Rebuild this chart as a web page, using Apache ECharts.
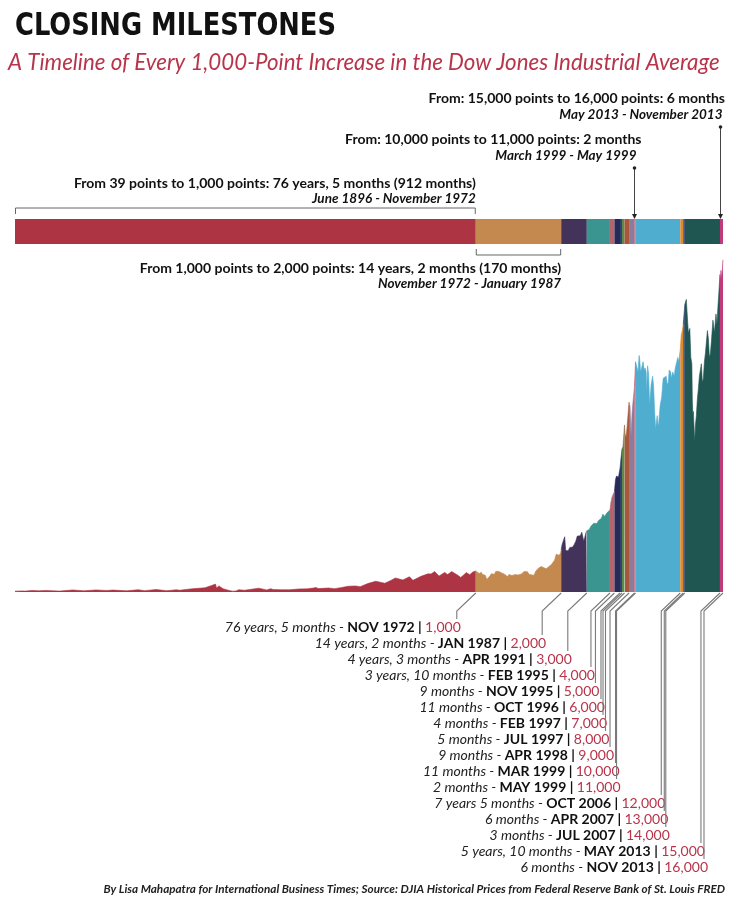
<!DOCTYPE html>
<html><head><meta charset="utf-8">
<script src="https://cdn.jsdelivr.net/npm/echarts@6/dist/echarts.min.js"></script>
<style>html,body{margin:0;padding:0;background:#fff}#c{width:736px;height:906px}</style>
</head><body><div id="c"></div>
<script>
// ---------- DATA ----------
const segmentColors = ['#AD3443','#C4894E','#43335A','#3A9591','#B5646F','#272957','#34406F','#5A8A4A','#A9573A','#8E7B9B','#C8475A','#4FADD0','#E08A2E','#2D3A6E','#1F5652','#C03A7C'];
const milestoneValues = ['1,000','2,000','3,000','4,000','5,000','6,000','7,000','8,000','9,000','10,000','11,000','12,000','13,000','14,000','15,000','16,000'];
const milestoneDates = ['1972-11','1987-01','1991-04','1995-02','1995-11','1996-10','1997-02','1997-07','1998-04','1999-03','1999-05','2006-10','2007-04','2007-07','2013-05','2013-11'];
const milestoneMonths = ['NOV 1972','JAN 1987','APR 1991','FEB 1995','NOV 1995','OCT 1996','FEB 1997','JUL 1997','APR 1998','MAR 1999','MAY 1999','OCT 2006','APR 2007','JUL 2007','MAY 2013','NOV 2013'];
const durationLabels = ['76 years, 5 months','14 years, 2 months','4 years, 3 months','3 years, 10 months','9 months','11 months','4 months','5 months','9 months','11 months','2 months','7 years 5 months','6 months','3 months','5 years, 10 months','6 months'];
const segmentMonths = [917,170,51,46,9,11,4,5,9,11,2,89,6,3,70,6];

const noteTitles = ['From 39 points to 1,000 points: 76 years, 5 months (912 months)','From 1,000 points to 2,000 points: 14 years, 2 months (170 months)','From: 10,000 points to 11,000 points: 2 months','From: 15,000 points to 16,000 points: 6 months'];
const noteDates = ['June 1896 - November 1972','November 1972 - January 1987','March 1999 - May 1999','May 2013 - November 2013'];
const noteSegments = [0,1,10,15];

const seg01 = [['1896-06',40],['1896-08',30],['1897-09',53],['1898-03',43],['1899-04',76],['1900-06',55],['1901-06',75],['1903-11',43],['1906-01',100],['1907-11',55],['1909-11',100],['1911-09',73],['1912-09',94],['1914-12',55],['1916-11',110],['1917-12',66],['1919-11',119],['1921-08',64],['1923-03',105],['1923-10',86],['1925-11',158],['1926-03',136],['1927-12',200],['1928-12',300],['1929-09',381],['1929-11',198],['1930-04',294],['1930-12',158],['1931-12',78],['1932-07',41],['1932-09',79],['1933-02',50],['1933-07',108],['1934-07',85],['1936-11',184],['1937-03',194],['1938-03',99],['1938-11',158],['1939-04',121],['1940-06',111],['1941-12',106],['1942-04',93],['1943-07',145],['1944-12',152],['1945-12',193],['1946-05',212],['1946-10',163],['1948-06',193],['1949-06',161],['1950-06',209],['1951-09',276],['1952-12',292],['1953-09',256],['1954-12',404],['1955-12',488],['1956-04',521],['1957-10',420],['1958-12',583],['1959-07',675],['1960-10',580],['1961-11',734],['1962-06',561],['1963-10',755],['1964-12',874],['1965-06',868],['1966-01',985],['1966-10',772],['1967-09',943],['1968-03',840],['1968-11',985],['1969-12',800],['1970-05',700],['1970-12',838],['1971-04',941],['1971-11',831],['1972-05',960],['1972-11',1018]];
const seg02 = [['1972-11',1018],['1973-01',999],['1973-03',951],['1973-06',891],['1973-08',887],['1973-10',956],['1973-12',851],['1974-03',847],['1974-06',802],['1974-09',608],['1974-12',616],['1975-03',768],['1975-06',879],['1975-09',794],['1975-12',852],['1976-03',999],['1976-06',1003],['1976-09',990],['1976-12',1005],['1977-03',919],['1977-06',916],['1977-09',847],['1977-12',831],['1978-02',742],['1978-05',841],['1978-08',877],['1978-11',799],['1979-03',862],['1979-06',842],['1979-09',878],['1979-11',822],['1980-03',786],['1980-06',868],['1980-09',932],['1980-11',993],['1981-03',1004],['1981-06',977],['1981-09',850],['1981-12',875],['1982-03',823],['1982-07',809],['1982-10',992],['1982-12',1047],['1983-03',1130],['1983-06',1222],['1983-09',1233],['1983-12',1259],['1984-03',1165],['1984-07',1115],['1984-09',1207],['1984-12',1212],['1985-03',1267],['1985-06',1336],['1985-09',1329],['1985-12',1547],['1986-03',1819],['1986-06',1893],['1986-09',1768],['1986-12',1896],['1987-01',2050]];
const seg03 = [['1987-01',2050],['1987-03',2304],['1987-05',2292],['1987-08',2663],['1987-10',1994],['1987-12',1939],['1988-03',1988],['1988-06',2141],['1988-09',2112],['1988-12',2169],['1989-03',2294],['1989-06',2440],['1989-09',2693],['1989-12',2753],['1990-03',2707],['1990-06',2881],['1990-07',2905],['1990-10',2442],['1990-12',2634],['1991-03',2914],['1991-04',2950]];
const seg04 = [['1991-04',2950],['1991-06',2907],['1991-09',3017],['1991-12',3169],['1992-03',3236],['1992-06',3319],['1992-09',3272],['1992-12',3301],['1993-03',3436],['1993-06',3516],['1993-09',3555],['1993-12',3754],['1994-03',3636],['1994-06',3625],['1994-09',3843],['1994-12',3834],['1995-02',3950]];
const seg05 = [['1995-02',3950],['1995-04',4321],['1995-06',4556],['1995-08',4610],['1995-11',4850]];
const seg06 = [['1995-11',4850],['1996-01',5395],['1996-03',5587],['1996-05',5643],['1996-07',5529],['1996-10',5950]];
const seg07 = [['1996-10',5950],['1996-12',6448],['1997-02',6900]];
const seg08 = [['1997-02',6900],['1997-04',7008],['1997-07',8050]];
const seg09 = [['1997-07',8050],['1997-08',7622],['1997-10',7442],['1997-12',7908],['1998-02',8546],['1998-04',9150]];
const seg10 = [['1998-04',9150],['1998-06',8952],['1998-07',8883],['1998-08',7539],['1998-10',8592],['1998-12',9181],['1999-03',9900]];
const seg11 = [['1999-03',9900],['1999-05',11100]];
const seg12 = [['1999-05',11100],['1999-07',10900],['1999-10',10600],['1999-12',11400],['2000-01',11300],['2000-03',10600],['2000-05',10800],['2000-08',11100],['2000-10',10700],['2000-12',10800],['2001-02',10600],['2001-03',9600],['2001-05',10900],['2001-07',10500],['2001-09',9000],['2001-12',10000],['2002-03',10400],['2002-05',9900],['2002-07',8700],['2002-09',7800],['2002-10',8100],['2002-12',8500],['2003-02',8000],['2003-03',8100],['2003-06',9000],['2003-09',9400],['2003-12',10300],['2004-03',10300],['2004-06',10400],['2004-08',10000],['2004-10',10100],['2004-12',10700],['2005-03',10600],['2005-04',10300],['2005-07',10600],['2005-10',10400],['2005-12',10800],['2006-03',11100],['2006-05',11300],['2006-07',11100],['2006-10',11700]];
const seg13 = [['2006-10',11700],['2006-12',12400],['2007-02',12600],['2007-04',12900]];
const seg14 = [['2007-04',12900],['2007-07',13850]];
const seg15 = [['2007-07',13850],['2007-10',14100],['2007-12',13300],['2008-02',12500],['2008-05',12700],['2008-07',11300],['2008-09',11000],['2008-10',9200],['2008-11',8600],['2008-12',8700],['2009-02',7600],['2009-03',7300],['2009-04',8000],['2009-06',8500],['2009-08',9300],['2009-10',9800],['2009-12',10400],['2010-04',11000],['2010-06',10100],['2010-08',10300],['2010-10',11100],['2010-12',11500],['2011-04',12600],['2011-06',12200],['2011-08',11300],['2011-10',11500],['2011-12',12100],['2012-03',13100],['2012-06',12500],['2012-09',13400],['2012-11',12900],['2013-01',13800],['2013-03',14500],['2013-05',15300]];
const seg16 = [['2013-05',15300],['2013-06',15000],['2013-07',15500],['2013-08',15100],['2013-09',15300],['2013-10',15600],['2013-11',16050]];
const segmentData = [seg01,seg02,seg03,seg04,seg05,seg06,seg07,seg08,seg09,seg10,seg11,seg12,seg13,seg14,seg15,seg16];

// ---------- CHART ----------
const FONT = 'Lato, "Open Sans", sans-serif';
const RED = '#B8344A';
const totalMonths = segmentMonths.reduce((a,b)=>a+b,0);
const cum = []; segmentMonths.reduce((a,b,i)=>{cum[i]=[a,a+b]; return a+b;},0);

const chart = echarts.init(document.getElementById('c'), null, {renderer:'canvas'});

const areaSeries = segmentData.map((d,i)=>({
  type:'line', xAxisIndex:0, yAxisIndex:0, data:d, symbol:'none', silent:true,
  lineStyle:{width:0.6, color:segmentColors[i]}, areaStyle:{color:segmentColors[i], opacity:1}, z:2
}));
const barSeries = segmentMonths.map((m,i)=>({
  type:'bar', xAxisIndex:1, yAxisIndex:1, stack:'tl', data:[m], barWidth:25, silent:true,
  itemStyle:{color:segmentColors[i]}
}));

const labelSeries = {
  type:'custom', xAxisIndex:0, yAxisIndex:0, silent:true, z:5,
  data: milestoneDates.map((d,i)=>[d,i]),
  renderItem:(params, api)=>{
    const i = api.value(1);
    const p = api.coord([api.value(0), 0]);
    const x = p[0], y0 = p[1];
    const ly = y0 + 35 + i*16;
    const vx = x - 19;
    return {type:'group', children:[
      {type:'polyline', shape:{points:[[x,y0+1],[vx,y0+19],[vx,ly-8]]}, style:{stroke:'#7a7a7a', lineWidth:1.1, fill:null}},
      {type:'text', x:x-15, y:ly, style:{
        text:'{d|'+durationLabels[i]+' - }{m|'+milestoneMonths[i]+' | }{v|'+milestoneValues[i]+'}',
        align:'right', verticalAlign:'middle',
        rich:{
          d:{fontFamily:FONT, fontStyle:'italic', fontSize:14, fill:'#222'},
          m:{fontFamily:FONT, fontWeight:'bold', fontSize:14, fill:'#111'},
          v:{fontFamily:FONT, fontSize:14, fill:RED}
        }}}
    ]};
  }
};

const noteSeries = {
  type:'custom', xAxisIndex:1, yAxisIndex:1, silent:true, z:5,
  data: noteSegments.map((s,k)=>[cum[s][0], cum[s][1], k]),
  renderItem:(params, api)=>{
    const k = api.value(2);
    const a = api.coord([api.value(0), 0]);
    const b = api.coord([api.value(1), 0]);
    const cy = a[1], top = cy-12.5, bot = cy+12.5;
    const tStyle = (txt, x, y) => ({type:'text', x, y, style:{text:txt, align:'right', verticalAlign:'middle', font:'bold 14px '+FONT, fill:'#111'}});
    const iStyle = (txt, x, y) => ({type:'text', x, y, style:{text:txt, align:'right', verticalAlign:'middle', font:'italic bold 13.5px '+FONT, fill:'#111'}});
    const ch = [];
    if (k===0) {
      const yb = top-11;
      ch.push({type:'polyline', shape:{points:[[a[0]+0.5,top-5],[a[0]+0.5,yb],[b[0]-0.5,yb],[b[0]-0.5,top-5]]}, style:{stroke:'#666', lineWidth:1, fill:null}});
      ch.push(tStyle(noteTitles[k], b[0], top-36));
      ch.push(iStyle(noteDates[k], b[0], top-20));
    } else if (k===1) {
      const yb = bot+11;
      ch.push({type:'polyline', shape:{points:[[a[0]+0.5,bot+5],[a[0]+0.5,yb],[b[0]-0.5,yb],[b[0]-0.5,bot+5]]}, style:{stroke:'#666', lineWidth:1, fill:null}});
      ch.push(tStyle(noteTitles[k], b[0], bot+24));
      ch.push(iStyle(noteDates[k], b[0], bot+40));
    } else {
      const x = Math.round((a[0]+b[0])/2)-0.5;
      const lvl = k===2 ? 0 : 1;
      const dotY = top - 51 - lvl*41;
      ch.push({type:'line', shape:{x1:x,y1:dotY,x2:x,y2:top-3}, style:{stroke:'#444', lineWidth:1}});
      ch.push({type:'circle', shape:{cx:x,cy:dotY,r:1.8}, style:{fill:'#222'}});
      ch.push({type:'polygon', shape:{points:[[x-2.5,top-5],[x+2.5,top-5],[x,top]]}, style:{fill:'#222'}});
      ch.push(tStyle(noteTitles[k], Math.min(x+7,725), dotY-29));
      ch.push(iStyle(noteDates[k], Math.min(x+2,724), dotY-12));
    }
    return {type:'group', children:ch};
  }
};

chart.setOption({
  animation:false,
  backgroundColor:'#fff',
  title:[
    {text:'A Timeline of Every 1,000-Point Increase in the Dow Jones Industrial Average', left:8, top:52, padding:0, textStyle:{fontFamily:FONT, fontStyle:'italic', fontWeight:'normal', fontSize:22.3, color:RED}},
    {text:'By Lisa Mahapatra for International Business Times; Source: DJIA Historical Prices from Federal Reserve Bank of St. Louis FRED', right:11, top:883, padding:0, textStyle:{fontFamily:FONT, fontStyle:'italic', fontWeight:'bold', fontSize:11.7, color:'#222'}}
  ],
  graphic:[
    {type:'text', x:15, y:11, scaleX:0.895, silent:true, style:{text:'CLOSING MILESTONES', font:'bold 32px "DejaVu Sans Condensed", sans-serif', fill:'#111', textVerticalAlign:'top'}}
  ],
  grid:[
    {left:15, right:13, top:260, height:332},
    {left:15, right:13, top:219, height:25}
  ],
  xAxis:[
    {type:'time', gridIndex:0, min:'1896-06-01', max:'2013-11-01', show:false},
    {type:'value', gridIndex:1, min:0, max:totalMonths, show:false}
  ],
  yAxis:[
    {type:'value', gridIndex:0, min:0, max:16000, show:false},
    {type:'category', gridIndex:1, data:['timeline'], show:false}
  ],
  series:[...areaSeries, ...barSeries, labelSeries, noteSeries]
});
</script></body></html>
